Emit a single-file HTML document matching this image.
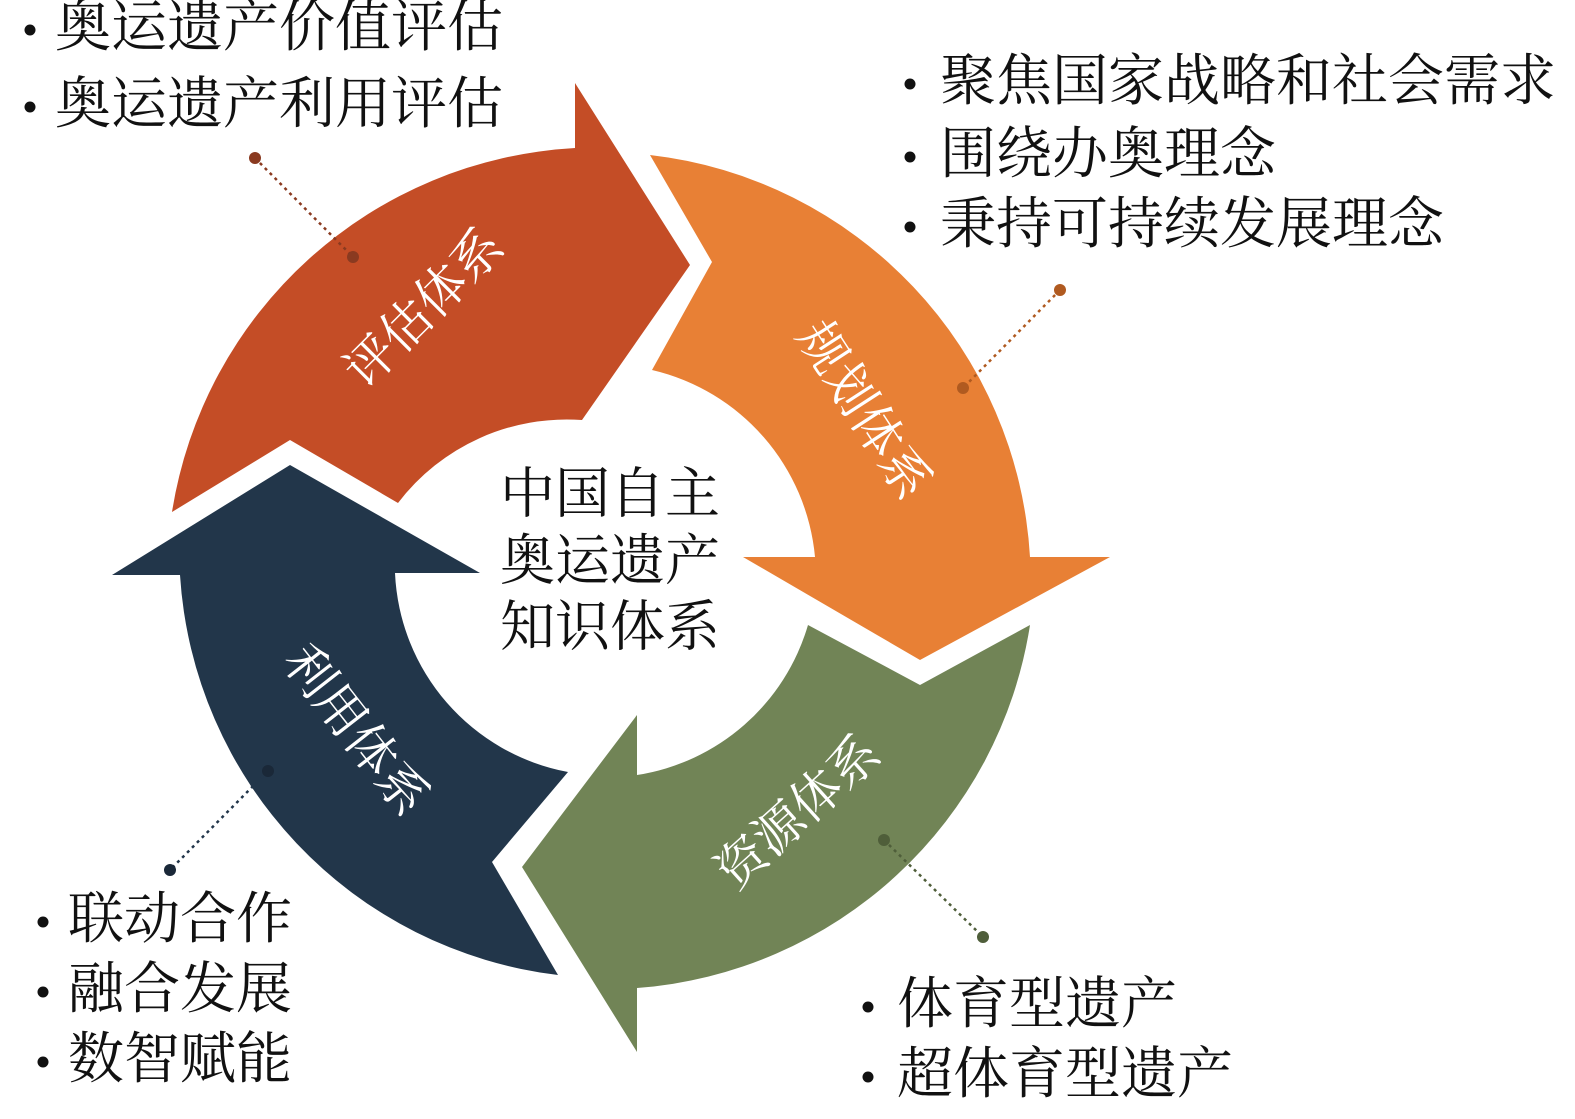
<!DOCTYPE html>
<html><head><meta charset="utf-8"><style>
html,body{margin:0;padding:0;background:#fff;}
body{width:1575px;height:1119px;position:relative;overflow:hidden;}
svg{position:absolute;left:0;top:0;}
</style></head><body>
<svg width="1575" height="1119" viewBox="0 0 1575 1119" font-family="'Liberation Serif','Noto Serif CJK SC',serif">
<path d="M172,512 A432,432 0 0 1 575,148 L575,83 L690,265 L582,420 A212,212 0 0 0 398,503 L290,440 Z" fill="#C44D26"/>
<path d="M650,155 A430,430 0 0 1 1030,557 L1110,557 L920,660 L743,557 L815,557 A212,212 0 0 0 652,370 L712,262 Z" fill="#E88035"/>
<path d="M1030,625 A430,430 0 0 1 637,988 L637,1052 L522,867 L637,715 L637,775 A212,212 0 0 0 808,625 L920,685 Z" fill="#718456"/>
<path d="M558,975 A430,430 0 0 1 180,575 L112,575 L290,465 L480,573 L395,573 A212,212 0 0 0 568,772 L492,862 Z" fill="#22364A"/>

<g stroke-dasharray="3,4" stroke-width="2.5" fill="none">
<line x1="255" y1="158" x2="353" y2="257" stroke="#8a3a20"/>
<line x1="1060" y1="290" x2="963" y2="388" stroke="#b05a20"/>
<line x1="268" y1="771" x2="170" y2="870" stroke="#22364A"/>
<line x1="884" y1="840" x2="983" y2="937" stroke="#4f5e3a"/>
</g>
<circle cx="255" cy="158" r="6" fill="#8a3a20"/><circle cx="353" cy="257" r="6" fill="#8a3a20"/>
<circle cx="1060" cy="290" r="6" fill="#b05a20"/><circle cx="963" cy="388" r="6" fill="#b05a20"/>
<circle cx="268" cy="771" r="6" fill="#1a2838"/><circle cx="170" cy="870" r="6" fill="#1a2838"/>
<circle cx="884" cy="840" r="6" fill="#4f5e3a"/><circle cx="983" cy="937" r="6" fill="#4f5e3a"/>

<g fill="#fff" font-size="50" text-anchor="middle" dominant-baseline="central">
<text transform="translate(424,308) rotate(-45)">评估体系</text>
<text transform="translate(864,410) rotate(57)">规划体系</text>
<text transform="translate(798,812) rotate(-42)">资源体系</text>
<text transform="translate(356,730) rotate(52)">利用体系</text>
</g>

<g font-size="55" fill="#111" text-anchor="middle" dominant-baseline="central">
<text x="610" y="494">中国自主</text>
<text x="610" y="561">奥运遗产</text>
<text x="610" y="627">知识体系</text>
</g>

<g font-size="56" fill="#111" dominant-baseline="central">
<text x="55" y="28">奥运遗产价值评估</text>
<text x="55" y="105">奥运遗产利用评估</text>
<text x="940" y="82">聚焦国家战略和社会需求</text>
<text x="940" y="155">围绕办奥理念</text>
<text x="940" y="225">秉持可持续发展理念</text>
<text x="68" y="920">联动合作</text>
<text x="68" y="990">融合发展</text>
<text x="68" y="1060">数智赋能</text>
<text x="897" y="1005">体育型遗产</text>
<text x="897" y="1075">超体育型遗产</text>
</g>
<g fill="#111">
<circle cx="30" cy="30" r="5.5"/><circle cx="30" cy="107" r="5.5"/>
<circle cx="910" cy="84" r="5.5"/><circle cx="910" cy="157" r="5.5"/><circle cx="910" cy="227" r="5.5"/>
<circle cx="43" cy="922" r="5.5"/><circle cx="43" cy="992" r="5.5"/><circle cx="43" cy="1062" r="5.5"/>
<circle cx="868" cy="1007" r="5.5"/><circle cx="868" cy="1077" r="5.5"/>
</g>
</svg>
</body></html>
